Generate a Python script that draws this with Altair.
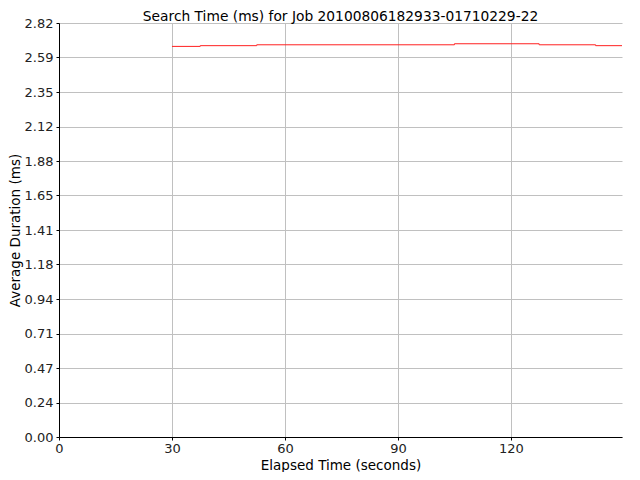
import altair as alt
import pandas as pd

elapsed = [30, 37.5, 52.5, 105, 127.5, 142.5, 150]
duration = [2.663, 2.668, 2.674, 2.681, 2.674, 2.668, 2.668]
y_max = 2.8225
y_ticks = [y_max * i / 12 for i in range(13)]
x_ticks = [0, 30, 60, 90, 120]

df = pd.DataFrame({"t": elapsed, "d": duration})

font = "DejaVu Sans"
chart = alt.Chart(df).mark_line(interpolate="step-after", color="#ff2020", strokeWidth=1, clip=True).encode(
    x=alt.X("t:Q", title="Elapsed Time (seconds)",
            scale=alt.Scale(domain=[0, 149.5], nice=False, zero=False),
            axis=alt.Axis(values=x_ticks, format="d", labelFlush=False, labelPadding=2, titlePadding=3)),
    y=alt.Y("d:Q", title="Average Duration (ms)",
            scale=alt.Scale(domain=[0, y_max], nice=False),
            axis=alt.Axis(values=y_ticks, format=".2f", labelPadding=3, titlePadding=2)),
).properties(
    width=563, height=414,
    title=alt.TitleParams("Search Time (ms) for Job 20100806182933-01710229-22",
                          font=font, fontSize=13.8, fontWeight="normal", color="#000000",
                          offset=-6.5, frame="group"),
    autosize=alt.AutoSizeParams(type="none"),
    padding={"left": 51, "top": 15, "right": 10, "bottom": 35},
).configure_view(stroke=None).configure_axis(
    labelFont=font, labelFontSize=13, labelColor="#222222",
    titleFont=font, titleFontSize=13.5, titleFontWeight="normal", titleColor="#000000",
    domainColor="#000000", tickColor="#000000", tickSize=3,
    gridColor="#c0c0c0", gridWidth=1,
)

chart.save("out.html", embed_options={"renderer": "svg", "actions": False})
